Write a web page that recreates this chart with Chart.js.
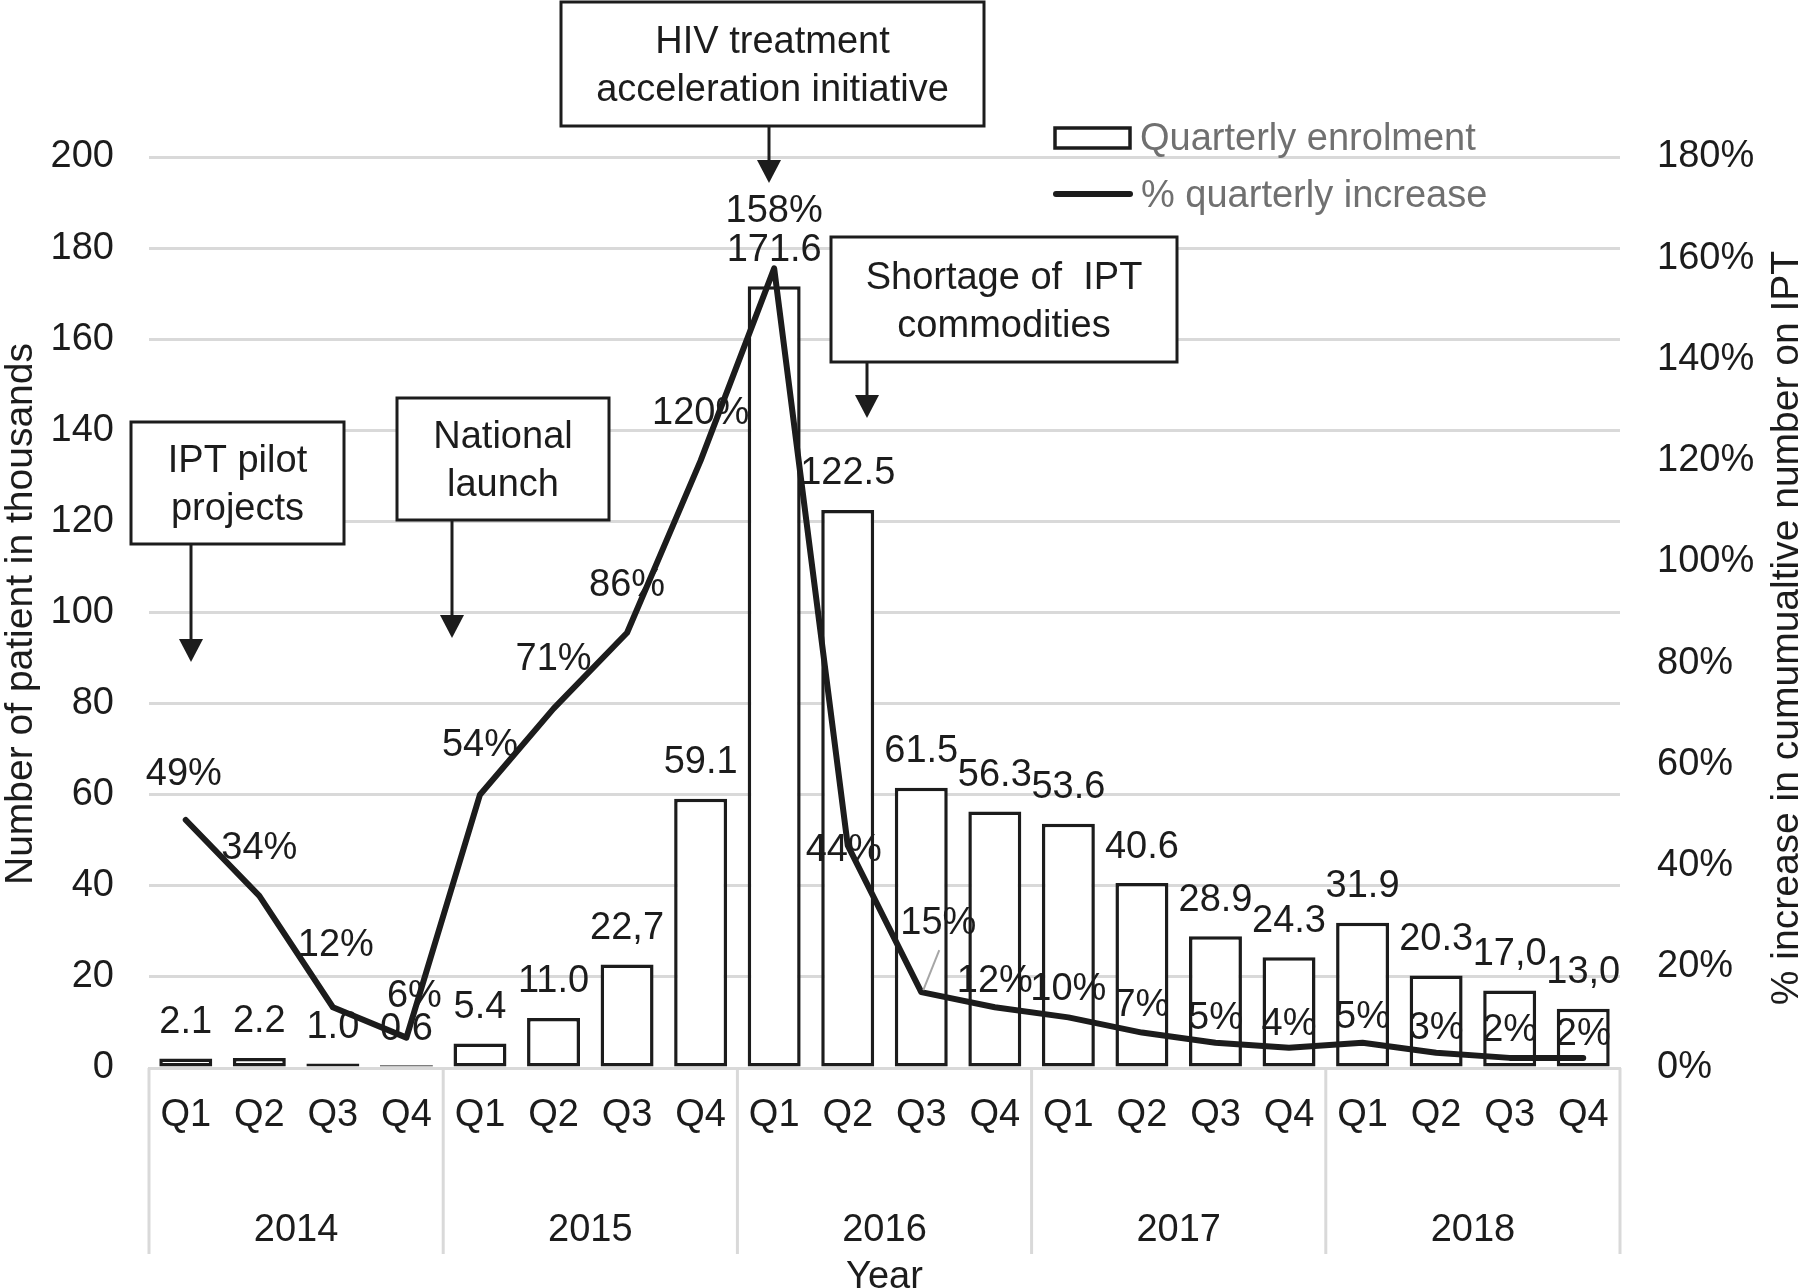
<!DOCTYPE html>
<html lang="en">
<head>
<meta charset="UTF-8">
<title>IPT enrolment 2014-2018</title>
<script src="https://cdn.jsdelivr.net/npm/chart.js@4.4.1/dist/chart.umd.min.js"></script>
<style>
  html, body { margin: 0; padding: 0; background: #fff; }
</style>
</head>
<body>
<canvas id="myChart" width="1800" height="1288"></canvas>
<script>
// data
const quarters = ['Q1', 'Q2', 'Q3', 'Q4', 'Q1', 'Q2', 'Q3', 'Q4', 'Q1', 'Q2',
                  'Q3', 'Q4', 'Q1', 'Q2', 'Q3', 'Q4', 'Q1', 'Q2', 'Q3', 'Q4'];
const years = ['2014', '2015', '2016', '2017', '2018'];
const enrolment = [2.1, 2.2, 1.0, 0.6, 5.4, 11.0, 22.7, 59.1, 171.6, 122.5,
                   61.5, 56.3, 53.6, 40.6, 28.9, 24.3, 31.9, 20.3, 17.0, 13.0];
const enrolmentLabels = ['2.1', '2.2', '1.0', '0.6', '5.4', '11.0', '22,7', '59.1', '171.6', '122.5',
                         '61.5', '56.3', '53.6', '40.6', '28.9', '24.3', '31.9', '20.3', '17,0', '13,0'];
const pctIncrease = [49, 34, 12, 6, 54, 71, 86, 120, 158, 44,
                     15, 12, 10, 7, 5, 4, 5, 3, 2, 2];

const FONT = '"Liberation Sans", Arial, sans-serif';
const TEXT = '#1c1c1c';
const GRID = '#d9d9d9';

// nudges for the % labels (dx, dy from the point)
const pctShift = [[-2, -46], [0, -48], [3, -63], [8, -42], [0, -50], [0, -50], [0, -48], [0, -48], [0, -58], [-4, 4],
                  [17, -70], [0, -27], [0, -29], [0, -28], [0, -25], [0, -24], [0, -26], [0, -25], [0, -28], [0, -24]];

const notes = [
    { lines: ['IPT pilot', 'projects'], box: [131, 422, 344, 544], arrowX: 191, tipY: 662 },
    { lines: ['National', 'launch'], box: [397, 398, 609, 520], arrowX: 452, tipY: 638 },
    { lines: ['HIV treatment', 'acceleration initiative'], box: [561, 2, 984, 126], arrowX: 769, tipY: 183 },
    { lines: ['Shortage of  IPT', 'commodities'], box: [831, 237, 1177, 362], arrowX: 867, tipY: 418 }
];

const extras = {
    id: 'extras',
    afterDatasetsDraw(chart) {
        const ctx = chart.ctx;
        const bars = chart.getDatasetMeta(0).data;
        const pts = chart.getDatasetMeta(1).data;
        ctx.save();
        ctx.font = '38px ' + FONT;
        ctx.fillStyle = TEXT;
        ctx.textAlign = 'center';
        ctx.textBaseline = 'middle';
        bars.forEach((b, i) => {
            ctx.fillText(enrolmentLabels[i], b.x, b.y - 36);
        });
        // leader line for the 15% label
        const p = pts[10];
        ctx.strokeStyle = '#a6a6a6';
        ctx.lineWidth = 2;
        ctx.beginPath();
        ctx.moveTo(p.x + 18, p.y - 42);
        ctx.lineTo(p.x + 2, p.y - 2);
        ctx.stroke();
        pts.forEach((pt, i) => {
            ctx.fillText(pctIncrease[i] + '%', pt.x + pctShift[i][0], pt.y + pctShift[i][1] + 1);
        });
        ctx.restore();
    },
    afterDraw(chart) {
        const ctx = chart.ctx;
        const x = chart.scales.x;
        const area = chart.chartArea;
        const half = (x.getPixelForValue(1) - x.getPixelForValue(0)) / 2;
        ctx.save();

        // year level of the category axis
        ctx.strokeStyle = GRID;
        ctx.lineWidth = 3;
        for (let k = 0; k <= years.length; k++) {
            const sx = k < years.length ? x.getPixelForValue(k * 4) - half : x.getPixelForValue(quarters.length - 1) + half;
            ctx.beginPath();
            ctx.moveTo(sx, area.bottom);
            ctx.lineTo(sx, 1254);
            ctx.stroke();
        }
        ctx.font = '38px ' + FONT;
        ctx.fillStyle = TEXT;
        ctx.textAlign = 'center';
        ctx.textBaseline = 'middle';
        years.forEach((y, k) => {
            const cx = (x.getPixelForValue(k * 4) + x.getPixelForValue(k * 4 + 3)) / 2;
            ctx.fillText(y, cx, 1231);
        });
        ctx.textBaseline = 'alphabetic';
        ctx.fillText('Year', (area.left + area.right) / 2, 1288);

        // axis titles
        ctx.font = '39px ' + FONT;
        ctx.save();
        ctx.translate(32, 614);
        ctx.rotate(-Math.PI / 2);
        ctx.fillText('Number of patient in thousands', 0, 0);
        ctx.restore();
        ctx.save();
        ctx.translate(1798, 628);
        ctx.rotate(-Math.PI / 2);
        ctx.fillText('% increase in cumumualtive number on IPT', 0, 0);
        ctx.restore();

        // event boxes with arrows
        ctx.font = '38px ' + FONT;
        ctx.textBaseline = 'middle';
        notes.forEach(n => {
            const [x0, y0, x1, y1] = n.box;
            ctx.fillStyle = '#ffffff';
            ctx.fillRect(x0, y0, x1 - x0, y1 - y0);
            ctx.strokeStyle = TEXT;
            ctx.lineWidth = 3;
            ctx.strokeRect(x0, y0, x1 - x0, y1 - y0);
            ctx.fillStyle = TEXT;
            const cy = (y0 + y1) / 2 + 3;
            ctx.fillText(n.lines[0], (x0 + x1) / 2, cy - 24);
            ctx.fillText(n.lines[1], (x0 + x1) / 2, cy + 24);
            ctx.lineWidth = 3;
            ctx.beginPath();
            ctx.moveTo(n.arrowX, y1);
            ctx.lineTo(n.arrowX, n.tipY - 20);
            ctx.stroke();
            ctx.beginPath();
            ctx.moveTo(n.arrowX - 12, n.tipY - 23);
            ctx.lineTo(n.arrowX + 12, n.tipY - 23);
            ctx.lineTo(n.arrowX, n.tipY);
            ctx.closePath();
            ctx.fill();
        });

        // legend
        ctx.fillStyle = '#ffffff';
        ctx.fillRect(1055, 128, 75, 20);
        ctx.strokeStyle = TEXT;
        ctx.lineWidth = 3.5;
        ctx.strokeRect(1055, 128, 75, 20);
        ctx.lineWidth = 6;
        ctx.lineCap = 'round';
        ctx.beginPath();
        ctx.moveTo(1056, 194);
        ctx.lineTo(1130, 194);
        ctx.stroke();
        ctx.fillStyle = '#707070';
        ctx.textAlign = 'left';
        ctx.fillText('Quarterly enrolment', 1140, 140);
        ctx.fillText('% quarterly increase', 1141, 197);
        ctx.restore();
    }
};

const ctx = document.getElementById('myChart').getContext('2d');
const myChart = new Chart(ctx, {
    type: 'bar',
    data: {
        labels: quarters,
        datasets: [{
            type: 'bar',
            label: 'Quarterly enrolment',
            data: enrolment,
            backgroundColor: '#ffffff',
            borderColor: TEXT,
            borderWidth: 3.5,
            borderSkipped: false,
            barPercentage: 0.72,
            categoryPercentage: 1,
            yAxisID: 'y',
            order: 1
        }, {
            type: 'line',
            label: '% quarterly increase',
            data: pctIncrease,
            borderColor: TEXT,
            borderWidth: 6,
            borderCapStyle: 'round',
            borderJoinStyle: 'round',
            pointRadius: 0,
            tension: 0,
            fill: false,
            yAxisID: 'y1',
            order: 0
        }]
    },
    options: {
        responsive: false,
        devicePixelRatio: 1,
        animation: false,
        layout: { padding: { top: 157, left: 0, right: 0, bottom: 0 } },
        plugins: { legend: { display: false }, tooltip: { enabled: false } },
        scales: {
            x: {
                grid: { display: false, drawTicks: false },
                border: { display: true, color: GRID, width: 3 },
                ticks: { color: TEXT, font: { family: FONT, size: 38 }, padding: 25, maxRotation: 0, autoSkip: false },
                afterFit: s => { s.height = 220; }
            },
            y: {
                position: 'left',
                min: 0, max: 200,
                grid: { color: GRID, lineWidth: 3, drawTicks: false },
                border: { display: false },
                ticks: { stepSize: 20, color: TEXT, font: { family: FONT, size: 38 }, padding: 35 },
                afterFit: s => { s.width = 149; }
            },
            y1: {
                position: 'right',
                min: 0, max: 180,
                grid: { display: false, drawTicks: false },
                border: { display: false },
                ticks: { stepSize: 20, color: TEXT, font: { family: FONT, size: 38 }, padding: 37,
                         callback: v => v + '%' },
                afterFit: s => { s.width = 180; }
            }
        }
    },
    plugins: [extras]
});
</script>
</body>
</html>
